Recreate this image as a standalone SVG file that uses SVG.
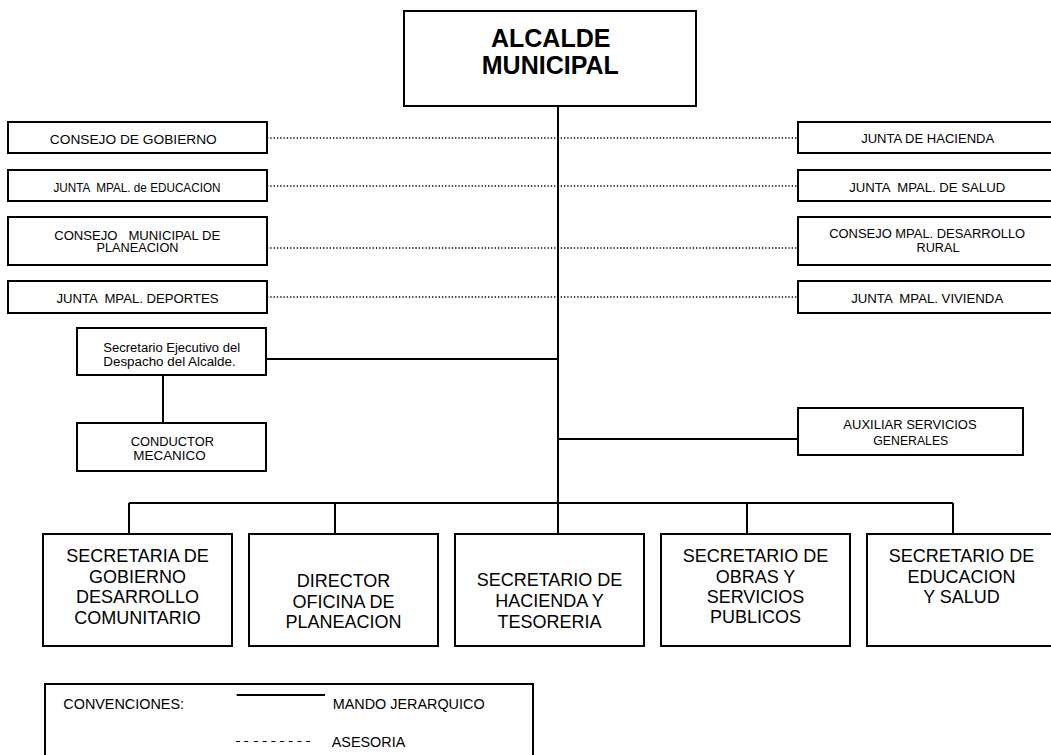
<svg xmlns="http://www.w3.org/2000/svg" width="1051" height="755" viewBox="0 0 1051 755">
<style>
.box{fill:#fff;stroke:#000;stroke-width:2}
.ln{fill:none;stroke:#000;stroke-width:2}
.dot{fill:none;stroke:#000;stroke-width:1.3;stroke-dasharray:1.3 2}
text{font-family:"Liberation Sans",Arial,sans-serif;fill:#000;text-anchor:middle}
.s{font-size:12.5px}
.b{font-size:18px}
.h{font-size:25px;font-weight:bold}
.l{font-size:14.4px;text-anchor:start}
</style>
<rect width="1051" height="755" fill="#fff"/>
<g id="connectors">
<path class="dot" d="M267,138H798M267,186H798M267,248H798M267,297H798"/>
<path class="ln" d="M558,106V503M266,359H558M558,439H798M163,375V423"/>
<path class="ln" d="M129,503H953M129,503V534M335,503V534M558,503V534M747,503V534M953,503V534"/>
</g>
<g id="alcalde">
<rect class="box" x="404" y="11" width="292" height="95"/>
<text class="h" x="550.7" y="47">ALCALDE</text>
<text class="h" x="550.3" y="74">MUNICIPAL</text>
</g>
<g id="consejo-gobierno">
<rect class="box" x="8" y="122" width="259" height="31"/>
<text class="s" x="133.3" y="144" textLength="167" lengthAdjust="spacingAndGlyphs">CONSEJO DE GOBIERNO</text>
</g>
<g id="junta-educacion">
<rect class="box" x="8" y="170" width="259" height="31"/>
<text class="s" x="137" y="191.5" textLength="167" lengthAdjust="spacingAndGlyphs" xml:space="preserve">JUNTA  MPAL. de EDUCACION</text>
</g>
<g id="consejo-planeacion">
<rect class="box" x="8" y="217" width="259" height="48"/>
<text class="s" x="137.2" y="239.5" textLength="166" lengthAdjust="spacingAndGlyphs" xml:space="preserve">CONSEJO   MUNICIPAL DE</text>
<text class="s" x="137.5" y="252" textLength="82" lengthAdjust="spacingAndGlyphs">PLANEACION</text>
</g>
<g id="junta-deportes">
<rect class="box" x="8" y="281" width="259" height="32"/>
<text class="s" x="137.5" y="302.5" textLength="162" lengthAdjust="spacingAndGlyphs" xml:space="preserve">JUNTA  MPAL. DEPORTES</text>
</g>
<g id="junta-hacienda">
<rect class="box" x="798" y="122" width="262" height="31"/>
<text class="s" x="927.7" y="143.3" textLength="133" lengthAdjust="spacingAndGlyphs">JUNTA DE HACIENDA</text>
</g>
<g id="junta-salud">
<rect class="box" x="798" y="170" width="262" height="31"/>
<text class="s" x="927.2" y="191.7" textLength="156" lengthAdjust="spacingAndGlyphs" xml:space="preserve">JUNTA  MPAL. DE SALUD</text>
</g>
<g id="consejo-rural">
<rect class="box" x="798" y="217" width="262" height="48"/>
<text class="s" x="927.2" y="237.7" textLength="196" lengthAdjust="spacingAndGlyphs">CONSEJO MPAL. DESARROLLO</text>
<text class="s" x="938" y="252" textLength="43" lengthAdjust="spacingAndGlyphs">RURAL</text>
</g>
<g id="junta-vivienda">
<rect class="box" x="798" y="281" width="262" height="32"/>
<text class="s" x="927.2" y="302.7" textLength="152" lengthAdjust="spacingAndGlyphs" xml:space="preserve">JUNTA  MPAL. VIVIENDA</text>
</g>
<g id="secretario-ejecutivo">
<rect class="box" x="77" y="328" width="189" height="47"/>
<text class="s" x="171.7" y="351.5" textLength="136.7" lengthAdjust="spacingAndGlyphs">Secretario Ejecutivo del</text>
<text class="s" x="169.5" y="366" textLength="132.3" lengthAdjust="spacingAndGlyphs">Despacho del Alcalde.</text>
</g>
<g id="conductor">
<rect class="box" x="77" y="423" width="189" height="48"/>
<text class="s" x="172.3" y="446" textLength="83.3" lengthAdjust="spacingAndGlyphs">CONDUCTOR</text>
<text class="s" x="169.5" y="460" textLength="72.3" lengthAdjust="spacingAndGlyphs">MECANICO</text>
</g>
<g id="auxiliar">
<rect class="box" x="798" y="408" width="225" height="47"/>
<text class="s" x="910" y="429" textLength="133.3" lengthAdjust="spacingAndGlyphs">AUXILIAR SERVICIOS</text>
<text class="s" x="910.8" y="445" textLength="75" lengthAdjust="spacingAndGlyphs">GENERALES</text>
</g>
<g id="sec-gobierno">
<rect class="box" x="43" y="534" width="189" height="112"/>
<text class="b" x="137.5" y="561.7">SECRETARIA DE</text>
<text class="b" x="137.5" y="582.7">GOBIERNO</text>
<text class="b" x="137.5" y="603.3">DESARROLLO</text>
<text class="b" x="137.5" y="624.3">COMUNITARIO</text>
</g>
<g id="dir-planeacion">
<rect class="box" x="249" y="534" width="189" height="112"/>
<text class="b" x="343.5" y="586.7">DIRECTOR</text>
<text class="b" x="343.5" y="607.7">OFICINA DE</text>
<text class="b" x="343.5" y="627.7">PLANEACION</text>
</g>
<g id="sec-hacienda">
<rect class="box" x="455" y="534" width="189" height="112"/>
<text class="b" x="549.5" y="586">SECRETARIO DE</text>
<text class="b" x="549.5" y="607.3">HACIENDA Y</text>
<text class="b" x="549.5" y="627.7">TESORERIA</text>
</g>
<g id="sec-obras">
<rect class="box" x="661" y="534" width="189" height="112"/>
<text class="b" x="755.5" y="561.7">SECRETARIO DE</text>
<text class="b" x="755.5" y="582.7">OBRAS Y</text>
<text class="b" x="755.5" y="603.3">SERVICIOS</text>
<text class="b" x="755.5" y="623.3">PUBLICOS</text>
</g>
<g id="sec-educacion">
<rect class="box" x="867" y="534" width="189" height="112"/>
<text class="b" x="961.5" y="561.7">SECRETARIO DE</text>
<text class="b" x="961.5" y="582.7">EDUCACION</text>
<text class="b" x="961.5" y="603.3">Y SALUD</text>
</g>
<g id="legend">
<rect class="box" x="45" y="684" width="488" height="80"/>
<text class="l" x="63.3" y="709.3">CONVENCIONES:</text>
<path class="ln" d="M236.7,695H325"/>
<text class="l" x="332.7" y="709.3">MANDO JERARQUICO</text>
<path fill="none" stroke="#000" stroke-width="1" stroke-dasharray="4 4.3 4 5.7 4 4.7 4 4.7 4 4.7 4 4.7 4 4.7 4 4.7 4 10" d="M236,741.5H315"/>
<text class="l" x="331.7" y="746.7">ASESORIA</text>
</g>
</svg>
